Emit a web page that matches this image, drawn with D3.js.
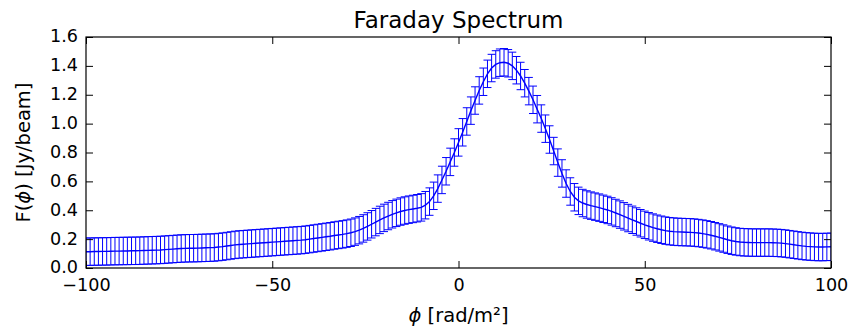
<!DOCTYPE html>
<html>
<head>
<meta charset="utf-8">
<script src="https://cdn.jsdelivr.net/npm/d3@7"></script>
<style>
  body { margin: 0; background: #fff; }
  text { font-family: "DejaVu Sans", sans-serif; fill: #000; }
</style>
</head>
<body>
<svg id="chart" width="850" height="327"></svg>
<script>
// ---- data ----
const phiMin = -100, phiMax = 100, nPoints = 181;
const fValues = [
  0.113,0.113,0.114,0.114,0.115,0.115,0.116,0.117,0.117,0.118,
  0.118,0.119,0.119,0.120,0.121,0.122,0.123,0.124,0.125,0.127,
  0.129,0.131,0.133,0.135,0.136,0.137,0.137,0.138,0.139,0.140,
  0.141,0.142,0.145,0.148,0.152,0.156,0.160,0.163,0.165,0.167,
  0.169,0.171,0.173,0.175,0.177,0.179,0.181,0.183,0.185,0.187,
  0.189,0.191,0.193,0.196,0.200,0.204,0.208,0.212,0.216,0.220,
  0.225,0.229,0.233,0.238,0.244,0.252,0.262,0.274,0.288,0.303,
  0.318,0.333,0.347,0.360,0.372,0.382,0.391,0.398,0.404,0.409,
  0.414,0.420,0.435,0.460,0.500,0.550,0.610,0.670,0.735,0.800,
  0.870,0.940,1.015,1.090,1.160,1.230,1.290,1.345,1.385,1.410,
  1.422,1.425,1.418,1.400,1.370,1.330,1.280,1.225,1.165,1.100,
  1.035,0.965,0.890,0.810,0.730,0.655,0.585,0.530,0.490,0.465,
  0.450,0.440,0.432,0.425,0.418,0.410,0.402,0.392,0.381,0.370,
  0.358,0.346,0.334,0.322,0.310,0.299,0.289,0.280,0.272,0.265,
  0.259,0.255,0.252,0.250,0.249,0.248,0.247,0.245,0.242,0.238,
  0.233,0.227,0.220,0.212,0.204,0.196,0.189,0.184,0.180,0.178,
  0.177,0.176,0.176,0.176,0.176,0.176,0.175,0.174,0.172,0.169,
  0.165,0.161,0.157,0.153,0.150,0.148,0.146,0.145,0.145,0.146,
  0.147
];
const fError = 0.095;
const xTicks = [-100, -50, 0, 50, 100];
const yTicks = [0.0, 0.2, 0.4, 0.6, 0.8, 1.0, 1.2, 1.4, 1.6];
const titleText = "Faraday Spectrum";

// ---- layout ----
const svg = d3.select("#chart");
const pL = 86, pR = 831, pT = 37, pB = 268;
const x = d3.scaleLinear().domain([phiMin, phiMax]).range([pL, pR]);
const y = d3.scaleLinear().domain([0, 1.6]).range([pB, pT]);

const data = fValues.map((v, i) => ({
  phi: phiMin + i * (phiMax - phiMin) / (nPoints - 1),
  f: v
}));

svg.append("defs").append("clipPath").attr("id", "clip")
  .append("rect").attr("x", pL).attr("y", pT)
  .attr("width", pR - pL).attr("height", pB - pT);

const g = svg.append("g").attr("clip-path", "url(#clip)");
const blue = "#0000ff";
const cap = 4;

// error bars
const eb = g.append("g");
data.forEach(d => {
  const xp = x(d.phi), y1 = y(d.f + fError), y0 = y(d.f - fError);
  eb.append("line").attr("x1", xp).attr("x2", xp).attr("y1", y1).attr("y2", y0)
    .attr("stroke", blue).attr("stroke-width", 1);
  eb.append("line").attr("x1", xp - cap).attr("x2", xp + cap).attr("y1", y1).attr("y2", y1)
    .attr("stroke", blue).attr("stroke-width", 1);
  eb.append("line").attr("x1", xp - cap).attr("x2", xp + cap).attr("y1", y0).attr("y2", y0)
    .attr("stroke", blue).attr("stroke-width", 1);
});

// main line
g.append("path").datum(data)
  .attr("d", d3.line().x(d => x(d.phi)).y(d => y(d.f)))
  .attr("fill", "none").attr("stroke", blue).attr("stroke-width", 1.4);

// axes (ticks inside, all four sides)
const fmtY = d3.format(".1f");
const fmtX = v => (v < 0 ? "\u2212" + Math.abs(v) : String(v));
const tickLen = 7;

const axB = svg.append("g").attr("transform", `translate(0,${pB})`)
  .call(d3.axisBottom(x).tickValues(xTicks).tickSizeInner(-tickLen).tickSizeOuter(0).tickPadding(11).tickFormat(fmtX));
const axT = svg.append("g").attr("transform", `translate(0,${pT})`)
  .call(d3.axisTop(x).tickValues(xTicks).tickSizeInner(-tickLen).tickSizeOuter(0).tickFormat(""));
const axL = svg.append("g").attr("transform", `translate(${pL},0)`)
  .call(d3.axisLeft(y).tickValues(yTicks).tickSizeInner(-tickLen).tickSizeOuter(0).tickPadding(8).tickFormat(fmtY));
const axR = svg.append("g").attr("transform", `translate(${pR},0)`)
  .call(d3.axisRight(y).tickValues(yTicks).tickSizeInner(-tickLen).tickSizeOuter(0).tickFormat(""));

[axB, axT, axL, axR].forEach(a => {
  a.select(".domain").remove();
  a.selectAll(".tick line").attr("stroke", "#000").attr("stroke-width", 1);
  a.selectAll("text").attr("font-family", "DejaVu Sans").attr("font-size", 17.6).attr("fill", "#000");
});
// keep the lowest y label from touching the first x label
axL.selectAll(".tick text").attr("dy", "0.28em");

// frame
svg.append("rect").attr("x", pL).attr("y", pT)
  .attr("width", pR - pL).attr("height", pB - pT)
  .attr("fill", "none").attr("stroke", "#000").attr("stroke-width", 1.2);

// title
svg.append("text").attr("x", (pL + pR) / 2).attr("y", 28)
  .attr("text-anchor", "middle").attr("font-size", 23).text(titleText);

// x label
const xl = svg.append("text").attr("x", (pL + pR) / 2).attr("y", 322)
  .attr("text-anchor", "middle").attr("font-size", 19.5);
xl.append("tspan").attr("font-style", "italic").text("\u03d5");
xl.append("tspan").text(" [rad/m\u00b2]");

// y label
const yl = svg.append("text").attr("transform", `translate(30,${(pT + pB) / 2}) rotate(-90)`)
  .attr("text-anchor", "middle").attr("font-size", 19.5);
yl.append("tspan").text("F(");
yl.append("tspan").attr("font-style", "italic").text("\u03d5");
yl.append("tspan").text(") [Jy/beam]");
</script>
</body>
</html>
